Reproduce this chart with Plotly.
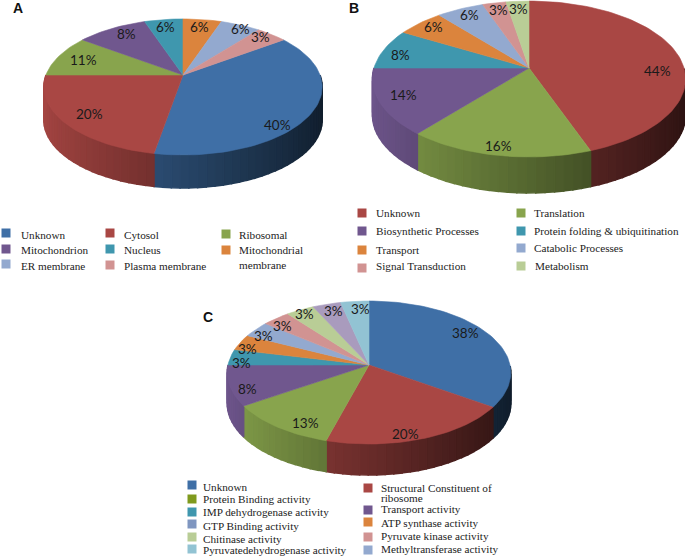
import math
import plotly.graph_objects as go

# --- data -------------------------------------------------------------
A_names = ["Unknown", "Cytosol", "Ribosomal", "Mitochondrion", "Nucleus",
           "Mitochondrial<br>membrane", "ER membrane", "Plasma membrane"]
A_shares = [37.8, 22.2, 10.0, 9.7, 5.3, 5.3, 5.5, 4.2]
A_labels = ["40%", "20%", "11%", "8%", "6%", "6%", "6%", "3%"]

B_names = ["Unknown", "Translation", "Biosynthetic Processes",
           "Protein folding &amp; ubiquitination", "Transport",
           "Catabolic Processes", "Signal Transduction", "Metabolism"]
B_shares = [44.4, 16.7, 13.9, 8.3, 5.6, 5.6, 2.8, 2.7]
B_labels = ["44%", "16%", "14%", "8%", "6%", "6%", "3%", "3%"]

C_names = ["Unknown", "Structural Constituent of", "ribosome",
           "Protein Binding activity", "Transport activity",
           "IMP dehydrogenase activity", "ATP synthase activity",
           "GTP Binding activity", "Pyruvate kinase activity",
           "Chitinase activity", "Methyltransferase activity",
           "Pyruvatedehydrogenase activity"]
C_shares = [34.5, 19.9, 11.4, 9.2, 3.57, 3.57, 3.57, 3.57, 3.57, 3.57, 3.57]
C_labels = ["38%", "20%", "13%", "8%", "3%", "3%", "3%", "3%", "3%", "3%", "3%"]

# --- style ------------------------------------------------------------
PALETTE = ["#3F6FA6", "#A94744", "#88A44D", "#70578E", "#3F97AE", "#DB843D",
           "#93A9CF", "#D19392", "#B9CD96", "#A99BBD", "#92C3D3"]
A_colors = PALETTE[:8]
B_colors = PALETTE[1:5] + [PALETTE[5], PALETTE[6], PALETTE[7], PALETTE[8]]
C_colors = PALETTE[:11]


def shade(hex_color, f):
    r, g, b = (int(hex_color[i:i + 2], 16) for i in (1, 3, 5))
    return "rgb(%d,%d,%d)" % (r * f, g * f, b * f)


def solid_poly(fig, xs, ys, color, width=0.6):
    fig.add_trace(go.Scatter(x=xs, y=ys, mode="lines", fill="toself", fillcolor=color,
                             line=dict(color=color, width=width), hoverinfo="skip",
                             showlegend=False))


def draw_pie(fig, shares, colors, labels, cx, cy, b, a, k, depth, rot, lab_r, nudge):
    def proj(deg, r=1.0):
        t = math.radians(deg)
        u, v = r * math.sin(t), r * math.cos(t)
        w = 1 + k * v
        return cx + b * u / w, cy - a * v / w

    total = sum(shares)
    ang = rot
    spans = []
    for s in shares:
        spans.append((ang, ang + s / total * 360))
        ang += s / total * 360

    # side wall, in short strips so the shading can vary around the rim
    for (s, e), col in zip(spans, colors):
        n = max(1, int((e - s) / 3))
        for i in range(n):
            d0, d1 = s + (e - s) * i / n, s + (e - s) * (i + 1) / n
            if math.cos(math.radians((d0 + d1) / 2)) > 0:
                continue
            x0, y0 = proj(d0)
            x1, y1 = proj(d1)
            f = 0.62 - 0.36 * math.sin(math.radians((d0 + d1) / 2))
            solid_poly(fig, [x0, x1, x1, x0, x0], [y0, y1, y1 + depth, y0 + depth, y0],
                       shade(col, f), width=1.5)

    # top surface
    for (s, e), col in zip(spans, colors):
        n = max(2, int((e - s) / 2))
        pts = [proj(s + (e - s) * i / n) for i in range(n + 1)]
        xs = [cx] + [p[0] for p in pts] + [cx]
        ys = [cy] + [p[1] for p in pts] + [cy]
        solid_poly(fig, xs, ys, col)

    anns = []
    for (s, e), txt, r, (dx, dy) in zip(spans, labels, lab_r, nudge):
        x, y = proj((s + e) / 2, r)
        anns.append(dict(x=x + dx, y=y + dy, text=txt, showarrow=False, xref="x", yref="y",
                         font=dict(family="Lato, Carlito, sans-serif", size=13.5, color="#1a1a1a")))
    return anns


def legend(fig, entries):
    anns = []
    for name, col, sx, sy, tx, ty in entries:
        if col is not None:
            fig.add_trace(go.Scatter(x=[sx], y=[sy], mode="markers", hoverinfo="skip", showlegend=False,
                                     marker=dict(symbol="square", size=9, color=col)))
        anns.append(dict(x=tx - 2, y=ty, text=name, showarrow=False, xref="x", yref="y",
                         xanchor="left", yanchor="middle", align="left",
                         font=dict(family="Liberation Serif, serif", size=11.2, color="#222")))
    return anns


fig = go.Figure()
anns = []

anns += draw_pie(fig, A_shares, A_colors, A_labels, 183, 75, 137, 65.9, 0.176, 33, 54,
                 [0.72, 0.72, 0.8, 0.85, 0.9, 0.9, 0.9, 0.93],
                 [(5, 23), (-11, 6), (0, 1), (5, -1), (0, 3), (-1, 3), (5, 0), (-5, 0)])
anns += draw_pie(fig, B_shares, B_colors, B_labels, 529, 68, 155, 76.4, 0.141, 36, 0,
                 [0.82, 0.8, 0.85, 0.9, 0.9, 0.9, 0.95, 0.95],
                 [(6, 14), (-7, 10), (0, -2), (2, 4), (3, 0), (3, 1), (3, 4), (1, 5)])
anns += draw_pie(fig, C_shares, C_colors, C_labels, 369, 365, 141, 70.7, 0.105, 31, 0,
                 [0.82, 0.8, 0.8, 0.88, 0.95, 0.95, 0.95, 0.95, 0.95, 0.95, 0.95],
                 [(-2, -6), (-5, 11), (8, 9), (1, 6), (4, 5), (1, 5), (2, 5), (2, 5), (1, 1), (5, 4), (5, 5)])

anns += legend(fig, [
    (A_names[0], A_colors[0], 6, 233, 21, 235),
    (A_names[1], A_colors[1], 110, 233, 124, 235),
    (A_names[2], A_colors[2], 226, 234, 239, 235),
    (A_names[3], A_colors[3], 6, 249, 21, 250),
    (A_names[4], A_colors[4], 110, 249, 124, 250),
    (A_names[5], A_colors[5], 226, 250, 239, 257),
    (A_names[6], A_colors[6], 6, 264, 21, 266),
    (A_names[7], A_colors[7], 110, 265, 124, 266),
])
anns += legend(fig, [
    (B_names[0], B_colors[0], 362, 213, 376, 213),
    (B_names[2], B_colors[2], 362, 231, 376, 231),
    (B_names[4], B_colors[4], 362, 250, 376, 250),
    (B_names[6], B_colors[6], 362, 268, 376, 266),
    (B_names[1], B_colors[1], 521, 213, 534, 213),
    (B_names[3], B_colors[3], 521, 231, 534, 231),
    (B_names[5], B_colors[5], 521, 248, 534, 248),
    (B_names[7], B_colors[7], 521, 266, 535, 266),
])
anns += legend(fig, [
    (C_names[0], C_colors[0], 192, 485, 203, 487),
    (C_names[3], "#7F9A1E", 192, 499, 203, 499),
    (C_names[5], C_colors[4], 192, 512, 203, 512),
    (C_names[7], "#7F96C0", 192, 524, 203, 526),
    (C_names[9], C_colors[8], 192, 537, 203, 539),
    (C_names[11], C_colors[10], 192, 549, 203, 550),
    (C_names[1], C_colors[1], 368, 488, 381, 487.5),
    (C_names[2], None, 0, 0, 381, 498),
    (C_names[4], C_colors[3], 368, 510, 381, 509),
    (C_names[6], C_colors[5], 368, 522, 381, 523),
    (C_names[8], C_colors[7], 368, 537, 381, 536),
    (C_names[10], "#93A9CF", 368, 550, 381, 549),
])

for txt, x, y in [("A", 18, 8), ("B", 354, 8), ("C", 208, 317)]:
    anns.append(dict(x=x, y=y, text="<b>%s</b>" % txt, showarrow=False, xref="x", yref="y",
                     font=dict(family="Liberation Sans, Arial, sans-serif", size=14, color="#111")))

fig.update_layout(
    width=685, height=557, margin=dict(l=0, r=0, t=0, b=0),
    paper_bgcolor="white", plot_bgcolor="white", showlegend=False,
    xaxis=dict(range=[0, 685], visible=False, fixedrange=True),
    yaxis=dict(range=[557, 0], visible=False, fixedrange=True),
    annotations=anns,
)
fig.write_html("out.html", config={"displayModeBar": False},
               post_script="document.body.style.margin='0';document.documentElement.style.overflow='hidden';")
